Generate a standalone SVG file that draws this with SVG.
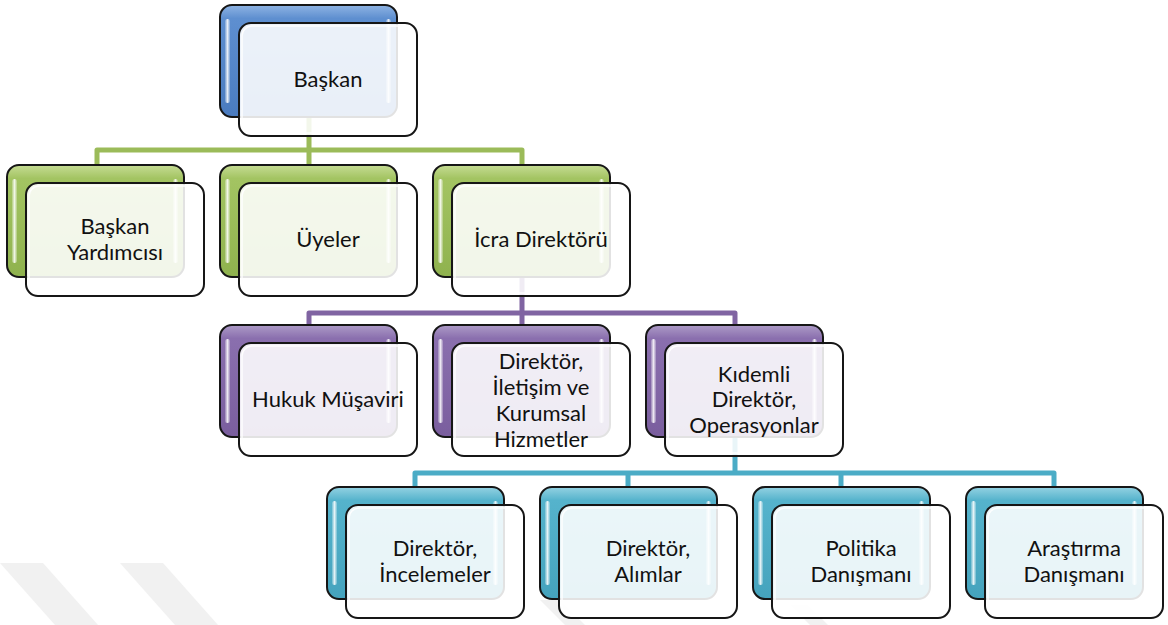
<svg xmlns="http://www.w3.org/2000/svg" width="1168" height="625" viewBox="0 0 1168 625">
  <defs>
    <linearGradient id="gBlue" x1="0" y1="0" x2="0" y2="1">
      <stop offset="0" stop-color="#8fb4e3"/>
      <stop offset="0.12" stop-color="#5e8fd0"/>
      <stop offset="1" stop-color="#4a7bbf"/>
    </linearGradient>
    <linearGradient id="gGreen" x1="0" y1="0" x2="0" y2="1">
      <stop offset="0" stop-color="#c6dc94"/>
      <stop offset="0.12" stop-color="#a3c462"/>
      <stop offset="1" stop-color="#8fb24e"/>
    </linearGradient>
    <linearGradient id="gPurple" x1="0" y1="0" x2="0" y2="1">
      <stop offset="0" stop-color="#ad9bc7"/>
      <stop offset="0.12" stop-color="#8a6fae"/>
      <stop offset="1" stop-color="#7a5e9e"/>
    </linearGradient>
    <linearGradient id="gTeal" x1="0" y1="0" x2="0" y2="1">
      <stop offset="0" stop-color="#94d2e2"/>
      <stop offset="0.12" stop-color="#55b3cc"/>
      <stop offset="1" stop-color="#45a3bd"/>
    </linearGradient>
    <linearGradient id="hl" x1="0" y1="0" x2="1" y2="0">
      <stop offset="0" stop-color="#fff" stop-opacity="0.2"/>
      <stop offset="0.5" stop-color="#fff" stop-opacity="0.85"/>
      <stop offset="1" stop-color="#fff" stop-opacity="0.2"/>
    </linearGradient>
    <style>
      .back { stroke: #161616; stroke-width: 2; }
      .shine { fill: url(#hl); }
      .front { fill: #ffffff; fill-opacity: 0.88; stroke: #161616; stroke-width: 2; }
      .inner { fill: none; stroke: #ffffff; stroke-opacity: 0.9; stroke-width: 1.5; }
      .blue { fill: url(#gBlue); }
      .green { fill: url(#gGreen); }
      .purple { fill: url(#gPurple); }
      .teal { fill: url(#gTeal); }
      .label { font-family: Lato, "Liberation Sans", sans-serif; font-size: 22px; fill: #111; text-anchor: middle; }
      .wire { fill: none; stroke-width: 5; stroke-linejoin: round; }
      .w-green { stroke: #9bbb59; }
      .w-purple { stroke: #8064a2; }
      .w-teal { stroke: #4bacc6; }
      .mark { fill: #f1f1f1; }
    </style>
    <!-- two-layer card: coloured back plate (fill inherited from the node group) plus translucent front plate -->
    <g id="card">
      <rect class="back" x="0" y="0" width="177" height="112" rx="12"/>
      <rect class="shine" x="5" y="14" width="5" height="84" rx="2.5"/>
      <rect class="shine" x="166" y="14" width="5" height="84" rx="2.5"/>
      <rect class="front" x="19" y="18" width="178" height="113" rx="12"/>
      <rect class="inner" x="22" y="21" width="172" height="107" rx="10"/>
    </g>
  </defs>

  <!-- background stripes -->
  <g id="backdrop">
    <polygon class="mark" points="0,563 43,563 98,625 55,625"/>
    <polygon class="mark" points="120,563 163,563 218,625 175,625"/>
    <polygon class="mark" points="540,600 560,600 585,625 565,625"/>
    <polygon class="mark" points="790,605 808,605 828,625 810,625"/>
  </g>

  <!-- connectors -->
  <g id="connectors">
    <path class="wire w-green" d="M309,117 V150 M97,165 V150 H522 V165 M309,150 V165"/>
    <path class="wire w-purple" d="M522,277 V313 M309,325 V313 H735 V325 M522,313 V325"/>
    <path class="wire w-teal" d="M735,437 V473 M415,487 V473 H1054 V487 M628,473 V487 M841,473 V487"/>
  </g>

  <!-- level 0 -->
  <g id="n-baskan" class="blue" transform="translate(220,5)">
    <use href="#card"/>
    <text class="label" x="108" y="82">Başkan</text>
  </g>

  <!-- level 1 -->
  <g id="n-baskan-yardimcisi" class="green" transform="translate(7,165)">
    <use href="#card"/>
    <text class="label" x="108" y="69">Başkan</text>
    <text class="label" x="108" y="94.5">Yardımcısı</text>
  </g>
  <g id="n-uyeler" class="green" transform="translate(220,165)">
    <use href="#card"/>
    <text class="label" x="108" y="82">Üyeler</text>
  </g>
  <g id="n-icra-direktoru" class="green" transform="translate(433,165)">
    <use href="#card"/>
    <text class="label" x="108" y="82">İcra Direktörü</text>
  </g>

  <!-- level 2 -->
  <g id="n-hukuk" class="purple" transform="translate(220,325)">
    <use href="#card"/>
    <text class="label" x="108" y="82">Hukuk Müşaviri</text>
  </g>
  <g id="n-iletisim" class="purple" transform="translate(433,325)">
    <use href="#card"/>
    <text class="label" x="108" y="43.5">Direktör,</text>
    <text class="label" x="108" y="69.5">İletişim ve</text>
    <text class="label" x="108" y="95.5">Kurumsal</text>
    <text class="label" x="108" y="121.5">Hizmetler</text>
  </g>
  <g id="n-operasyonlar" class="purple" transform="translate(646,325)">
    <use href="#card"/>
    <text class="label" x="108" y="56.5">Kıdemli</text>
    <text class="label" x="108" y="82">Direktör,</text>
    <text class="label" x="108" y="107.5">Operasyonlar</text>
  </g>

  <!-- level 3 -->
  <g id="n-incelemeler" class="teal" transform="translate(327,487)">
    <use href="#card"/>
    <text class="label" x="108" y="69">Direktör,</text>
    <text class="label" x="108" y="94.5">İncelemeler</text>
  </g>
  <g id="n-alimlar" class="teal" transform="translate(540,487)">
    <use href="#card"/>
    <text class="label" x="108" y="69">Direktör,</text>
    <text class="label" x="108" y="94.5">Alımlar</text>
  </g>
  <g id="n-politika" class="teal" transform="translate(753,487)">
    <use href="#card"/>
    <text class="label" x="108" y="69">Politika</text>
    <text class="label" x="108" y="94.5">Danışmanı</text>
  </g>
  <g id="n-arastirma" class="teal" transform="translate(966,487)">
    <use href="#card"/>
    <text class="label" x="108" y="69">Araştırma</text>
    <text class="label" x="108" y="94.5">Danışmanı</text>
  </g>
</svg>
